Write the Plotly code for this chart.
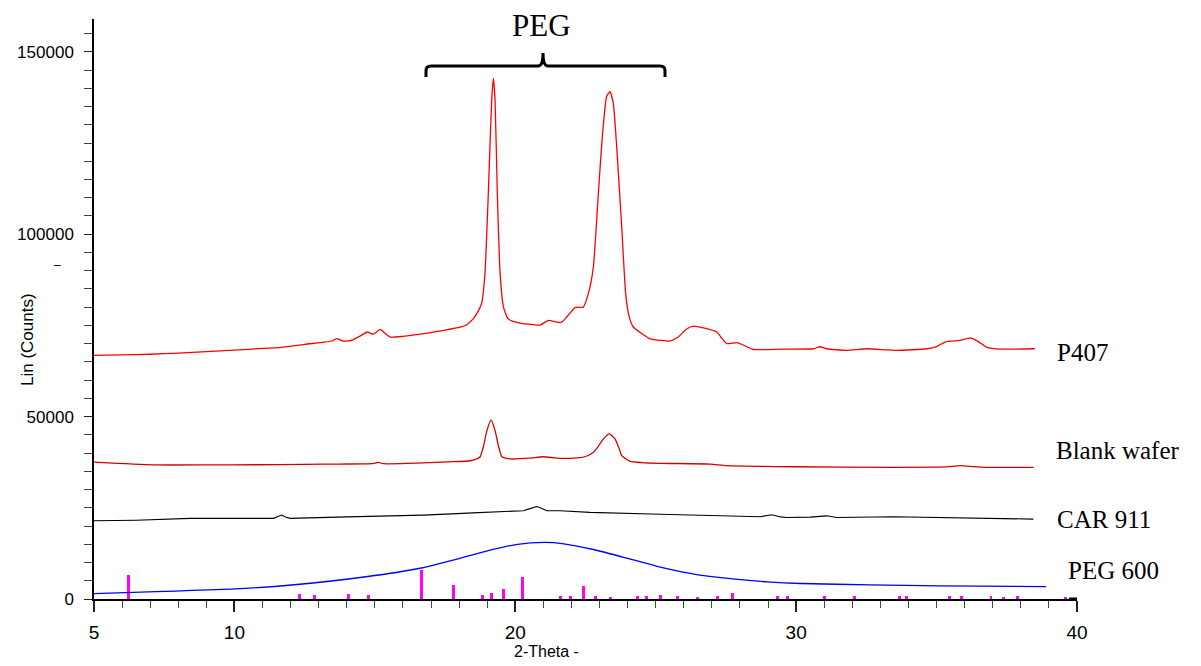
import plotly.graph_objects as go

# ---------------- data ----------------
p407_x = [5.0, 6.0, 7.0, 8.0, 9.0, 10.0, 11.0, 11.6, 12.5, 13.2, 13.5, 13.64, 13.88, 14.2, 14.5, 14.73,
          14.95, 15.19, 15.35, 15.54, 16.0, 16.8, 17.5, 18.03, 18.27, 18.5, 18.65, 18.8, 18.92, 19.04,
          19.16, 19.22, 19.28, 19.36, 19.46, 19.58, 19.75, 20.17, 20.64, 20.88, 21.18, 21.47, 21.65,
          21.83, 22.13, 22.42, 22.6, 22.78, 22.92, 23.08, 23.25, 23.37, 23.49, 23.61, 23.79, 23.93,
          24.05, 24.21, 24.5, 24.8, 25.16, 25.51, 25.8, 26.1, 26.34, 26.7, 27.17, 27.35, 27.53, 27.89,
          28.1, 28.48, 29.5, 30.62, 30.85, 31.1, 31.8, 32.51, 33.58, 34.65, 35.0, 35.31, 35.84, 36.2,
          36.5, 36.79, 37.3, 38.5]
p407_y = [66800, 66900, 67100, 67400, 67800, 68200, 68700, 68900, 69800, 70400, 70800, 71400, 70700,
          71000, 72200, 73200, 72600, 73900, 72900, 71800, 72000, 72800, 73700, 74500, 75200, 76800,
          78500, 81000, 89200, 111200, 136800, 142800, 136800, 111200, 89200, 80000, 76800, 75600,
          75200, 75100, 76400, 75900, 75900, 77300, 79900, 80000, 83700, 91000, 106600, 124900, 137700,
          139100, 135900, 124000, 102000, 83700, 77500, 74500, 72800, 71300, 70900, 70700, 71800, 74000,
          74800, 74300, 73200, 71500, 70000, 70300, 69700, 68400, 68500, 68600, 69150, 68600, 68150,
          68600, 68150, 68600, 69200, 70450, 70900, 71600, 70500, 69000, 68500, 68600]

blank_x = [5.0, 5.5, 7.23, 9.0, 10.79, 12.5, 13.76, 14.9, 15.12, 15.3, 16.73, 17.6, 18.39, 18.65, 18.75,
           18.87, 18.99, 19.14, 19.28, 19.4, 19.52, 19.65, 19.81, 20.5, 21.0, 21.4, 21.71, 22.31, 22.55,
           22.78, 22.95, 23.14, 23.35, 23.55, 23.7, 23.79, 24.09, 24.5, 25.16, 26.94, 27.53, 29.91,
           33.47, 35.3, 35.84, 36.3, 36.79, 38.45]
blank_y = [37500, 37300, 36750, 36750, 36800, 36900, 37000, 37100, 37450, 37100, 37300, 37600, 37900,
           38500, 39000, 42000, 46150, 49100, 46150, 42000, 39000, 38600, 38400, 38600, 39000, 38700,
           38550, 38750, 39200, 40200, 41800, 43900, 45250, 43900, 41200, 39300, 37750, 37400, 37200,
           37000, 36550, 36250, 36100, 36200, 36550, 36300, 36100, 36100]

car_x = [5.0, 6.5, 8.42, 10.0, 11.39, 11.55, 11.68, 11.82, 11.98, 14.0, 16.73, 18.5, 20.29, 20.5, 20.76,
         20.95, 21.12, 21.6, 22.66, 25.16, 27.0, 28.72, 29.13, 29.45, 29.66, 30.5, 31.09, 31.44, 33.47,
         35.5, 38.45]
car_y = [21450, 21600, 22100, 22100, 22100, 22600, 23000, 22500, 22100, 22500, 23000, 23600, 24200,
         24700, 25350, 24800, 24200, 24200, 23750, 23250, 22900, 22550, 23100, 22500, 22350, 22450,
         22800, 22350, 22550, 22250, 21900]

peg600_x = [5.0, 7.5, 10.0, 12.13, 14.68, 16.65, 17.86, 19.0, 20.08, 21.03, 21.67, 22.82, 24.07, 25.28,
            26.51, 27.74, 28.97, 30.18, 32.64, 35.1, 38.9]
peg600_y = [1470, 2100, 2750, 3900, 6100, 8500, 10800, 13200, 15000, 15500, 15200, 13500, 11000, 8500,
            6600, 5500, 4700, 4250, 3880, 3600, 3400]

ref_x = [6.22, 12.31, 12.86, 14.07, 14.78, 16.66, 17.79, 18.84, 19.15, 19.57, 20.25, 21.6, 21.96, 22.43,
         22.86, 23.38, 24.35, 24.66, 25.16, 25.77, 26.48, 27.19, 27.74, 29.33, 29.7, 31.02, 32.09, 33.69,
         33.94, 35.47, 35.9, 36.94, 37.37, 37.87, 39.58]
ref_y = [6700, 1470, 980, 1470, 1180, 8000, 3900, 1180, 1570, 2740, 6000, 760, 760, 3500, 760, 500, 760,
         760, 1230, 760, 500, 760, 1700, 760, 760, 760, 760, 760, 760, 950, 760, 760, 500, 760, 500]

x_tickvals = [5, 10, 20, 30, 40]
x_ticktext = ["5", "10", "20", "30", "40"]
y_tickvals = [0, 50000, 100000, 150000]
y_ticktext = ["0", "50000", "100000", "150000"]
x_range = [5, 40]
y_range = [0, 159000]

series_labels = ["P407", "Blank wafer", "CAR 911", "PEG 600"]
peg_title = "PEG"
x_title = "2-Theta -"
y_title = "Lin (Counts)"

# ---------------- figure ----------------
fig = go.Figure()
fig.add_trace(go.Bar(x=ref_x, y=ref_y, width=0.1, marker=dict(color="#ff00ff", line=dict(width=0)),
                     showlegend=False, hoverinfo="x+y"))
fig.add_trace(go.Scatter(x=peg600_x, y=peg600_y, mode="lines", line=dict(color="#0000ff", width=1.3, shape="spline", smoothing=0.6),
                         name=series_labels[3], showlegend=False))
fig.add_trace(go.Scatter(x=car_x, y=car_y, mode="lines", line=dict(color="#000000", width=1.1),
                         name=series_labels[2], showlegend=False))
fig.add_trace(go.Scatter(x=blank_x, y=blank_y, mode="lines", line=dict(color="#d40000", width=1.3, shape="spline", smoothing=0.5),
                         name=series_labels[1], showlegend=False))
fig.add_trace(go.Scatter(x=p407_x, y=p407_y, mode="lines", line=dict(color="#ff0000", width=1.3, shape="spline", smoothing=0.5),
                         name=series_labels[0], showlegend=False))

serif = "Liberation Serif, Times New Roman, serif"
sans = "Liberation Sans, Arial, sans-serif"

# plot area target is x 94..1077, y 19..599 in the window (body margin removed below)
fig.update_layout(
    width=1201, height=666,
    margin=dict(l=94, r=124, t=19, b=67, autoexpand=False),
    paper_bgcolor="white", plot_bgcolor="white",
    bargap=0,
    xaxis=dict(range=x_range, tickvals=x_tickvals, ticktext=x_ticktext, ticks="outside", ticklen=11, tickwidth=1.5,
               tickcolor="#222", showline=True, linecolor="black", linewidth=1.5, showgrid=False,
               zeroline=False, tickfont=dict(family=sans, size=19, color="black"),
               ticklabelstandoff=4,
               minor=dict(dtick=1, tick0=5, ticks="outside", ticklen=7, tickcolor="#444", tickwidth=1, showgrid=False)),
    yaxis=dict(range=y_range, tickvals=y_tickvals, ticktext=y_ticktext, ticks="outside", ticklen=8, tickwidth=1,
               tickcolor="#222", showline=True, linecolor="black", linewidth=1.5, showgrid=False,
               zeroline=False, tickfont=dict(family=sans, size=17, color="black"),
               ticklabelstandoff=7,
               minor=dict(dtick=5000, tick0=0, ticks="outside", ticklen=8, tickcolor="#444", tickwidth=1, showgrid=False)),
)

def px_to_paper(px, py):
    return (px - 94) / 983.0, (599 - py) / 580.0

annots = []
for label, (px, py), xanchor in [(series_labels[0], (1055, 352), "left"),
                                  (series_labels[1], (1054, 450), "left"),
                                  (series_labels[2], (1055, 519), "left"),
                                  (series_labels[3], (1066, 570), "left")]:
    ax, ay = px_to_paper(px, py)
    annots.append(dict(x=ax, y=ay, xref="paper", yref="paper", text=label, showarrow=False,
                       xanchor=xanchor, yanchor="middle", font=dict(family=serif, size=25, color="black")))
ax, ay = px_to_paper(541, 25)
annots.append(dict(x=ax, y=ay, xref="paper", yref="paper", text=peg_title, showarrow=False,
                   xanchor="center", yanchor="middle", font=dict(family=serif, size=31, color="black")))
ax, ay = px_to_paper(546, 651)
annots.append(dict(x=ax, y=ay, xref="paper", yref="paper", text=x_title, showarrow=False,
                   xanchor="center", yanchor="middle", font=dict(family=sans, size=16, color="black")))
ax, ay = px_to_paper(28, 340)
annots.append(dict(x=ax, y=ay, xref="paper", yref="paper", text=y_title, showarrow=False, textangle=-90,
                   xanchor="center", yanchor="middle", font=dict(family=sans, size=17, color="black")))
ax, ay = px_to_paper(57, 265)
annots.append(dict(x=ax, y=ay, xref="paper", yref="paper", text="–", showarrow=False,
                   xanchor="center", yanchor="middle", font=dict(family=sans, size=12, color="black")))
fig.update_layout(annotations=annots)

# PEG bracket (paper coordinates)
xl, yb = px_to_paper(426, 77)
xr, _ = px_to_paper(665, 77)
xc, yh = px_to_paper(543, 66)
_, yt = px_to_paper(543, 53)
r = 0.005
path = (f"M {xl},{yb} L {xl},{yh-0.008} Q {xl},{yh} {xl+r},{yh} L {xc-r},{yh} "
        f"Q {xc},{yh} {xc},{yt} Q {xc},{yh} {xc+r},{yh} L {xr-r},{yh} Q {xr},{yh} {xr},{yh-0.008} L {xr},{yb}")
fig.add_shape(type="path", path=path, xref="paper", yref="paper", line=dict(color="black", width=3))
# small thick end marker of x axis
fig.add_shape(type="line", xref="paper", yref="paper", x0=0.992, x1=1.0, y0=0, y1=0,
              line=dict(color="black", width=3))

fig.write_html("out.html", config={"displayModeBar": False},
               post_script="document.body.style.margin='0px'; document.body.style.overflow='hidden';")
